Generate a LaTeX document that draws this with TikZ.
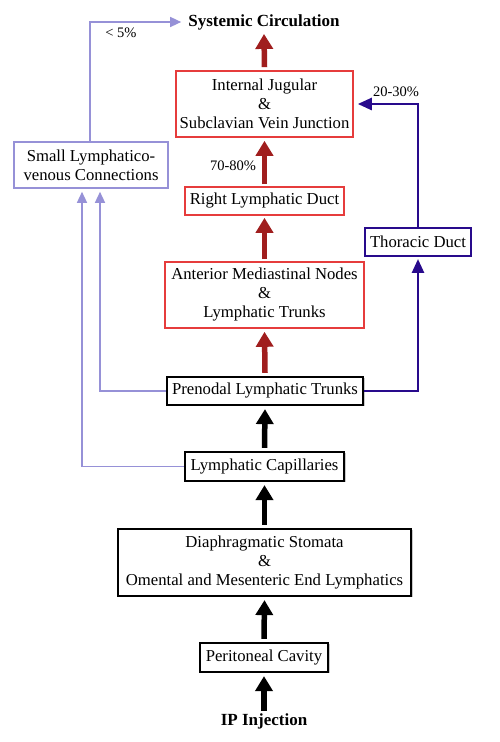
\documentclass[tikz,border=0pt]{standalone}
\usepackage{fontspec}
\setmainfont{Liberation Serif}
\usetikzlibrary{arrows.meta,calc,shadows}
\definecolor{boxred}{RGB}{230,60,60}
\definecolor{arrowred}{RGB}{160,30,30}
\definecolor{lav}{RGB}{150,145,215}
\definecolor{navy}{RGB}{40,10,140}
\begin{document}
\begin{tikzpicture}[x=1pt,y=1pt,
  box/.style={rectangle, inner sep=0pt, align=center, fill=white, font=\fontsize{16.7}{19}\selectfont},
  blackbox/.style={box, draw=black, line width=2.2pt, drop shadow={shadow xshift=1.5pt, shadow yshift=-1.5pt, fill=black!35, opacity=0.6}},
  redbox/.style={box, draw=boxred, line width=1.6pt},
  lavbox/.style={box, draw=lav, line width=1.6pt},
  navybox/.style={box, draw=navy, line width=2pt},
  boldlab/.style={inner sep=0pt, font=\fontsize{17}{20}\selectfont\bfseries},
  pct/.style={inner sep=0pt, font=\fontsize{14.5}{17}\selectfont},
  redarrow/.style={draw=arrowred, line width=5.5pt, -{Triangle[width=17pt,length=15pt,fill=arrowred]}},
  blackarrow/.style={draw=black, line width=5.5pt, -{Triangle[width=17pt,length=15pt,fill=black]}},
  lavline/.style={draw=lav, line width=1.4pt, -{Triangle[width=10pt,length=11pt,fill=lav]}},
  navyline/.style={draw=navy, line width=2.6pt, -{Triangle[width=12pt,length=14pt,fill=navy]}},
]
\fill[white] (0,0) rectangle (500,742);
\useasboundingbox (0,0) rectangle (500,742);

\node[boldlab] (sys) at (264,720) {Systemic Circulation};
\node[boldlab] (ip) at (264,21) {IP Injection};

\node[redbox, minimum width=177pt, minimum height=66pt] (ij) at (264.5,638) {Internal Jugular\\\&\\Subclavian Vein Junction};
\node[lavbox, minimum width=154pt, minimum height=46pt] (slv) at (91,577) {Small Lymphatico-\\venous Connections};
\node[redbox, minimum width=159pt, minimum height=28pt] (rld) at (264.5,541) {Right Lymphatic Duct};
\node[navybox, minimum width=106pt, minimum height=28pt] (td) at (418,500) {Thoracic Duct};
\node[redbox, minimum width=199pt, minimum height=66pt] (am) at (264.5,447) {Anterior Mediastinal Nodes\\\&\\Lymphatic Trunks};
\node[blackbox, minimum width=196pt, minimum height=28pt] (pre) at (265,351) {Prenodal Lymphatic Trunks};
\node[blackbox, minimum width=159pt, minimum height=29pt] (lc) at (264.5,275.5) {Lymphatic Capillaries};
\node[blackbox, minimum width=293pt, minimum height=67pt] (ds) at (264.5,179.5) {Diaphragmatic Stomata\\\&\\Omental and Mesenteric End Lymphatics};
\node[blackbox, minimum width=128pt, minimum height=29pt] (pc) at (264,84.5) {Peritoneal Cavity};

\node[pct] (p5) at (121,709) {\textless{} 5\%};
\node[pct] (p70) at (233,576) {70-80\%};
\node[pct] (p20) at (396,650) {20-30\%};

% thick arrows
\draw[blackarrow] ([yshift=2pt]ip.north) -- ([yshift=-3pt]pc.south);
\draw[blackarrow] ([yshift=3pt]pc.north) -- ([yshift=-3pt]ds.south);
\draw[blackarrow] ([yshift=3pt]ds.north) -- ([yshift=-3pt]lc.south);
\draw[blackarrow] ([yshift=3pt]lc.north) -- ([yshift=-3pt]pre.south);
\draw[redarrow] ([yshift=3pt]pre.north) -- ([yshift=-3pt]am.south);
\draw[redarrow] ([yshift=2pt]am.north) -- ([yshift=-2pt]rld.south);
\draw[redarrow] ([yshift=2pt]rld.north) -- ([yshift=-3pt]ij.south);
\draw[redarrow] ([yshift=3pt]ij.north) -- ([yshift=-4pt]sys.south);

% navy connectors
\draw[navyline] (pre.east) -| ([yshift=-2pt]td.south);
\draw[navyline] (td.north) |- ([xshift=4pt]ij.east);

% lavender connectors
\draw[lavline] (pre.west) -| ([xshift=9pt,yshift=-3pt]slv.south);
\draw[lavline] (lc.west) -| ([xshift=-9pt,yshift=-3pt]slv.south);
\draw[lavline] ([xshift=-1pt]slv.north) |- ([xshift=-7pt]sys.west);
\end{tikzpicture}
\end{document}
